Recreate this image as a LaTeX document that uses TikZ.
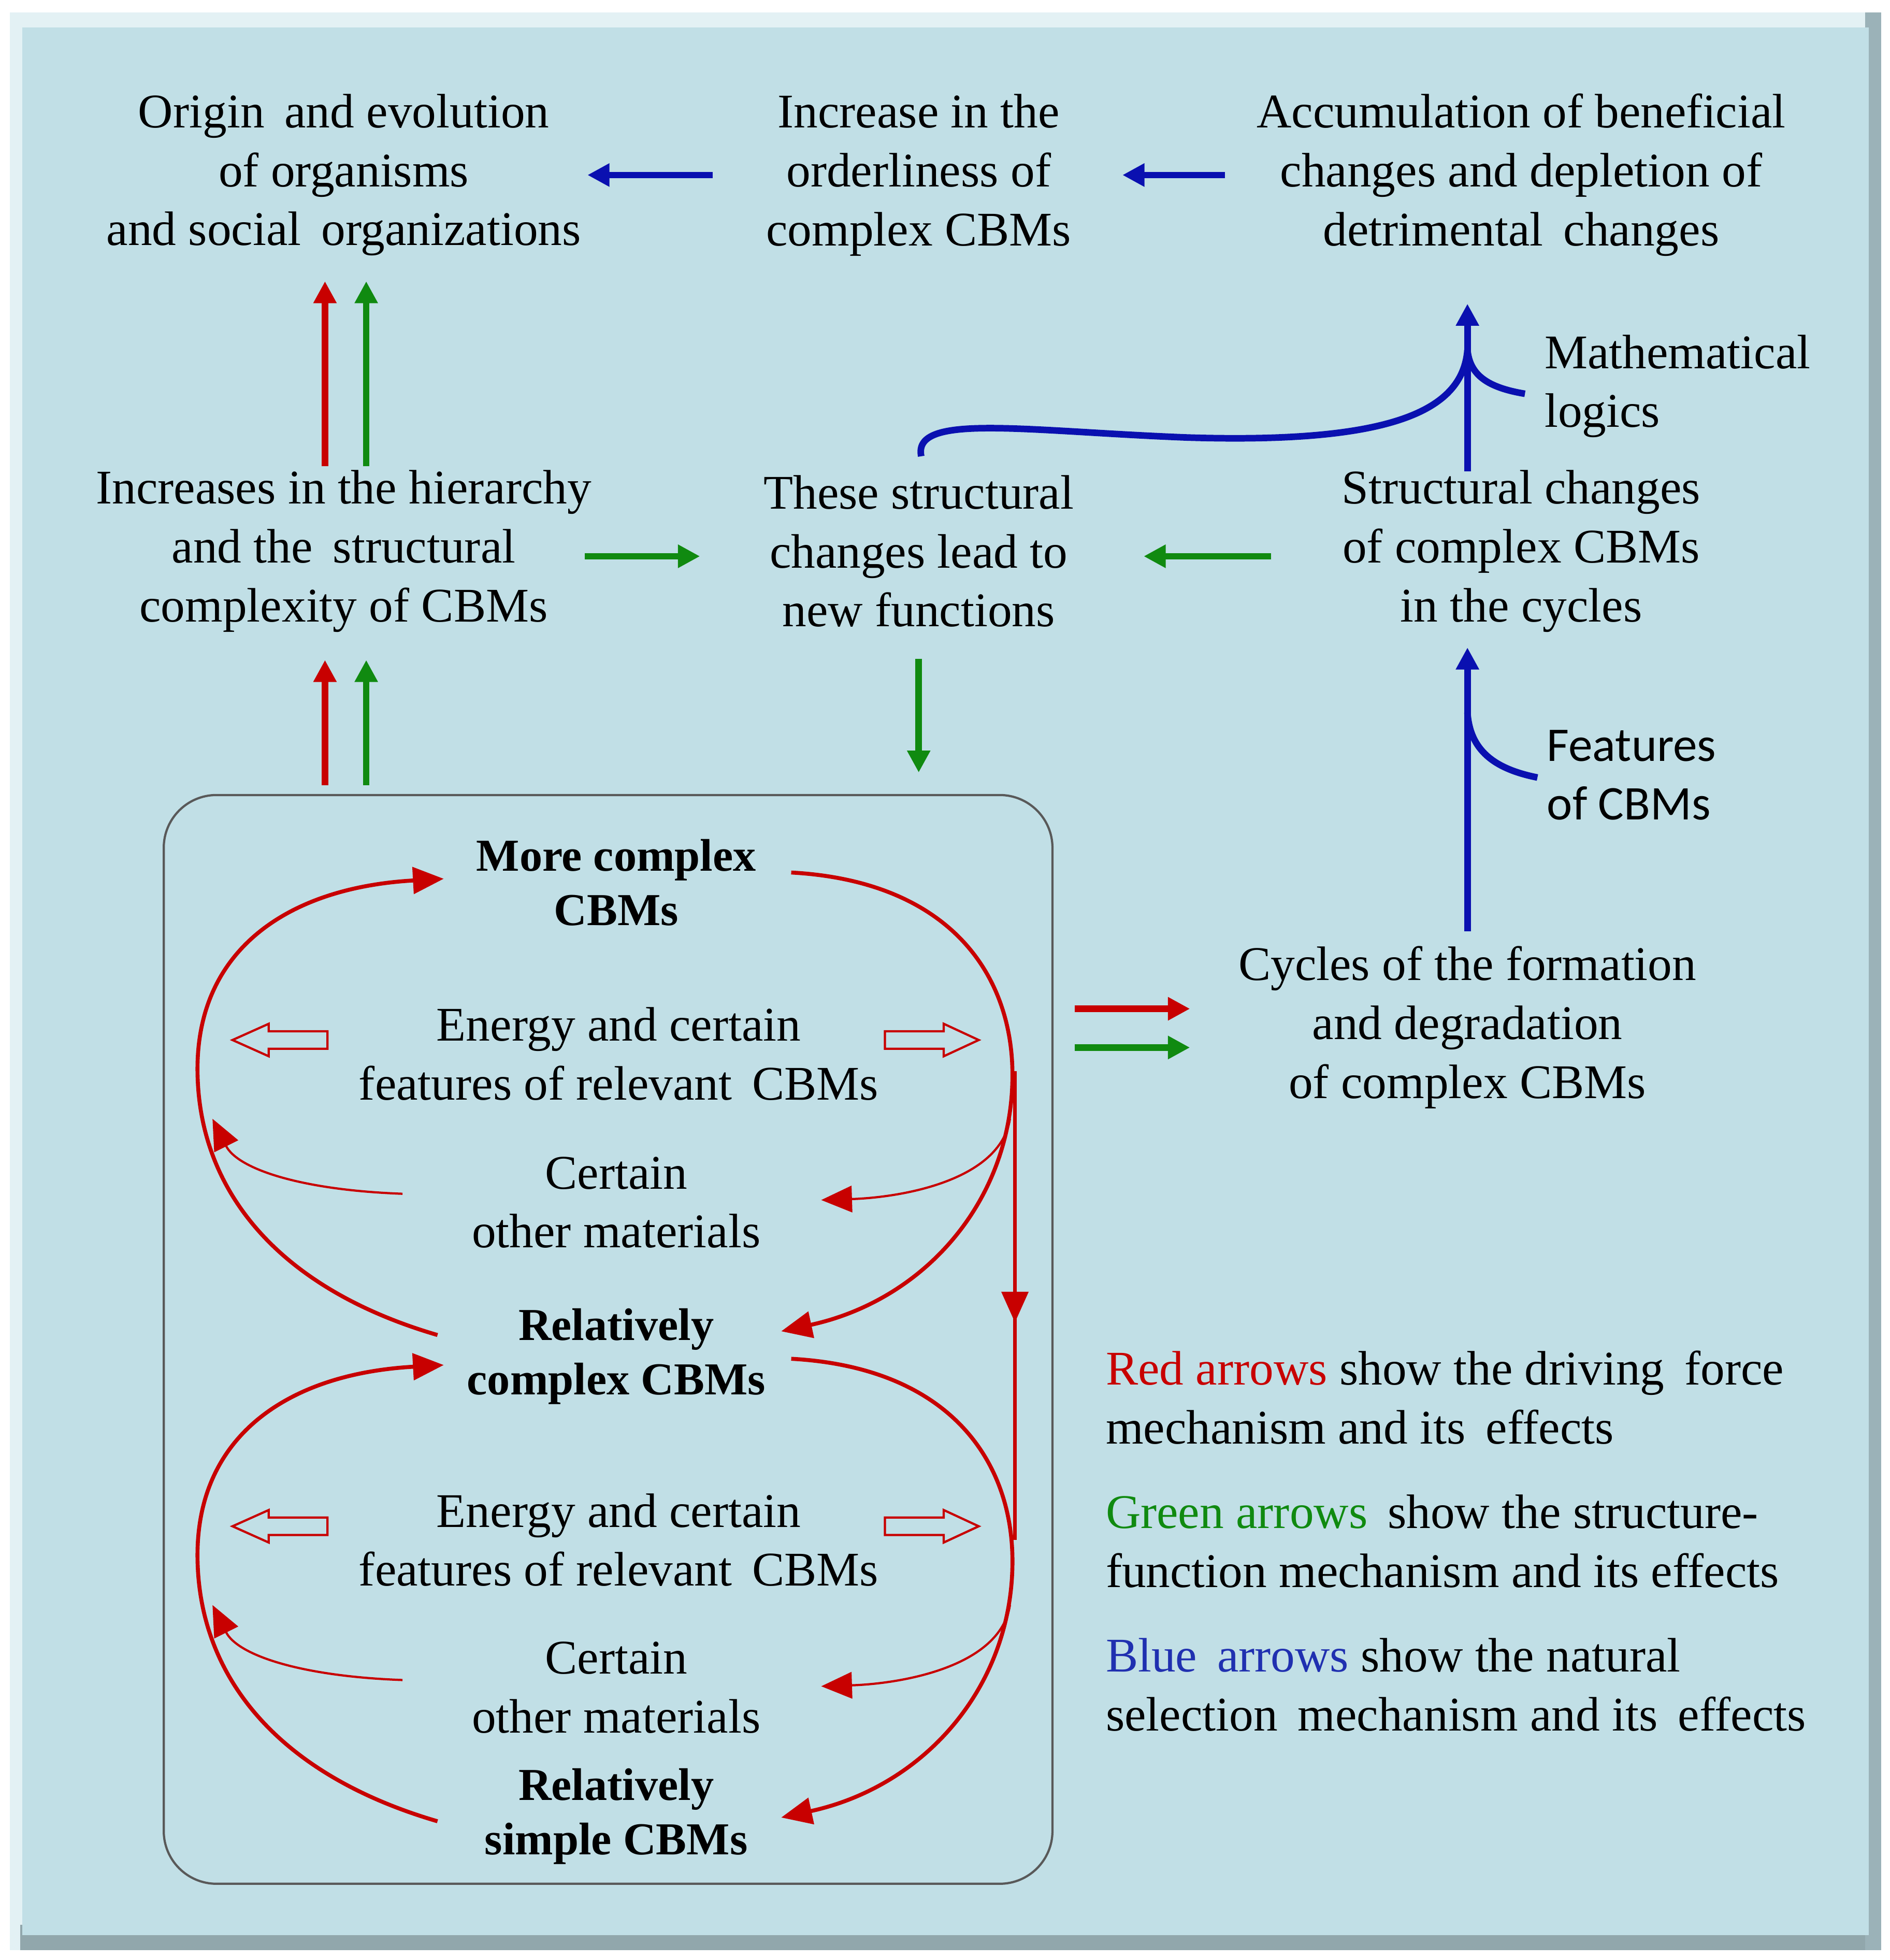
\documentclass[tikz,border=0pt]{standalone}
\usepackage{fontspec}
\setmainfont{Liberation Serif}
\newfontfamily\sansf{Carlito}
\usetikzlibrary{arrows.meta}
\definecolor{bg}{HTML}{C1DFE6}
\definecolor{rd}{HTML}{C80000}
\definecolor{gn}{HTML}{108A10}
\definecolor{bl}{HTML}{0A10B0}
\definecolor{lbl}{HTML}{2030B0}
\begin{document}
\begin{tikzpicture}[x=0.01cm,y=-0.01cm,
  txt/.style={align=center,font=\fontsize{11}{13.4}\selectfont,inner sep=0},
  bt/.style={txt,font=\fontsize{10.4}{12.4}\selectfont\bfseries},
  ar/.style={line width=1.5pt,-{Triangle[length=5pt,width=5pt]}},
  lp/.style={rd,line width=0.9pt,-{Triangle[length=7pt,width=6pt]}},
  th/.style={rd,line width=0.5pt,-{Triangle[length=7pt,width=6pt]}},
  hol/.style={rd,line width=0.5pt,fill=bg}]
\useasboundingbox (0,0) rectangle (1512,1568);
\fill[white] (0,0) rectangle (1512,1568);
\fill[bg!45!white] (8,10) rectangle (1505,1560);
\fill[bg!75!black] (16,1540) rectangle (1505,1560);
\fill[bg!80!black] (1492,10) rectangle (1505,1560);
\fill[bg] (18,22) rectangle (1495,1548);
% top row
\node[txt] (A) at (275,140) {Origin\, and evolution\\of organisms\\and social\, organizations};
\node[txt] (B) at (735,140) {Increase in the\\orderliness of\\complex CBMs};
\node[txt] (C) at (1217,140) {Accumulation of beneficial\\changes and depletion of\\detrimental\, changes};
\node[txt] (D) at (275,441) {Increases in the hierarchy\\and the\, structural\\complexity of CBMs};
\node[txt] (E) at (735,441) {These structural\\changes lead to\\new functions};
\node[txt] (F) at (1217,441) {Structural changes\\of complex CBMs\\in the cycles};
\node[txt] (G) at (1174,822) {Cycles of the formation\\and degradation\\of complex CBMs};
\node[txt,align=left,anchor=west] (M) at (1235,309) {Mathematical\\logics};
\node[txt,align=left,anchor=west,font=\sansf\fontsize{11}{13.4}\selectfont] (Fe) at (1237,620) {Features\\of CBMs};
% blue
\draw[ar,bl] (570,140) -- (470,140);
\draw[ar,bl] (980,140) -- (898,140);
\draw[ar,bl] (1174,377) -- (1174,243);
\draw[bl,line width=1.5pt] (737,365) .. controls (730,330) and (820,345) .. (950,350) .. controls (1110,355) and (1170,330) .. (1174,280);
\draw[bl,line width=1.5pt] (1220,315) .. controls (1190,310) and (1176,300) .. (1174,280);
\draw[ar,bl] (1174,745) -- (1174,518);
\draw[bl,line width=1.5pt] (1230,622) .. controls (1195,615) and (1176,600) .. (1174,570);
% green/red
\draw[ar,gn] (468,445) -- (560,445);
\draw[ar,gn] (1017,445) -- (915,445);
\draw[ar,gn] (735,527) -- (735,618);
\draw[ar,rd] (260,373) -- (260,225);
\draw[ar,gn] (293,373) -- (293,225);
\draw[ar,rd] (260,628) -- (260,528);
\draw[ar,gn] (293,628) -- (293,528);
\draw[ar,rd] (860,807) -- (952,807);
\draw[ar,gn] (860,838) -- (952,838);
% inner box
\draw[gray!70!black,line width=0.5pt,rounded corners=12] (131,636) rectangle (842,1507);
\node[bt] (n1) at (493,706) {More complex\\CBMs};
\node[txt] (e1) at (495,843) {Energy and certain\\features of relevant\, CBMs};
\node[txt] (c1) at (493,962) {Certain\\other materials};
\node[bt] (n2) at (493,1085) {Relatively\\complex CBMs};
\node[txt] (e2) at (495,1232) {Energy and certain\\features of relevant\, CBMs};
\node[txt] (c2) at (493,1350) {Certain\\other materials};
\node[bt] (n3) at (493,1453) {Relatively\\simple CBMs};
\foreach \o in {0,389}{
 \begin{scope}[yshift=-\o*0.01cm]
 \draw[lp] (350,1068) .. controls (220,1030) and (158,950) .. (158,855) .. controls (158,760) and (230,710) .. (355,703);
 \draw[lp] (633,698) .. controls (760,705) and (810,780) .. (810,860) .. controls (810,960) and (740,1040) .. (625,1065);
 \draw[th] (322,955) .. controls (240,952) and (190,935) .. (170,895);
 \draw[th] (808,895) .. controls (800,945) and (720,958) .. (657,960);
 \draw[hol] (262,825) -- (215,825) -- (215,819) -- (186,832) -- (215,845) -- (215,839) -- (262,839) -- cycle;
 \draw[hol] (708,825) -- (755,825) -- (755,819) -- (783,832) -- (755,845) -- (755,839) -- (708,839) -- cycle;
 \end{scope}}
\draw[rd,line width=0.9pt] (812,857) -- (812,1232);
\draw[th,line width=0.9pt] (812,1000) -- (812,1058);
% legend
\node[txt,align=left,anchor=north west] (L1) at (884,1080) {\textcolor{rd}{Red arrows} show the driving\, force\\mechanism and its\, effects};
\node[txt,align=left,anchor=north west] (L2) at (884,1195) {\textcolor{gn}{Green arrows}\, show the structure-\\function mechanism and its effects};
\node[txt,align=left,anchor=north west] (L3) at (884,1310) {\textcolor{lbl}{Blue\, arrows} show the natural\\selection\, mechanism and its\, effects};
\end{tikzpicture}
\end{document}
